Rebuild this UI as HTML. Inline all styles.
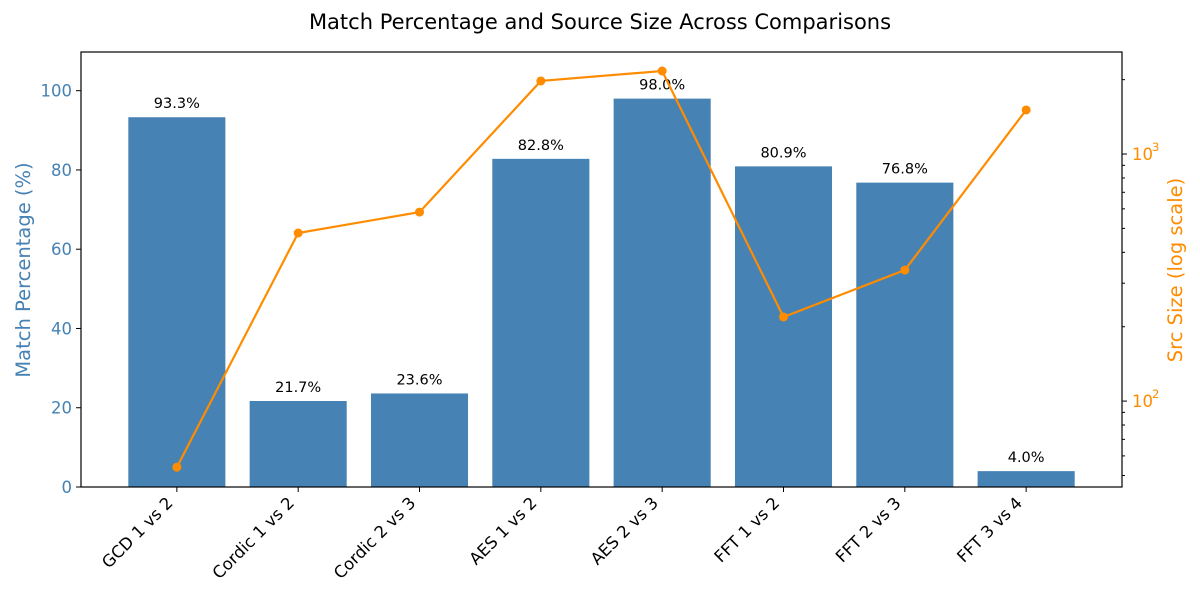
<!DOCTYPE html>
<html><head><meta charset="utf-8"><style>
body{margin:0;background:#fff;font-family:"Liberation Sans","DejaVu Sans",sans-serif}
svg text{font-family:"DejaVu Sans","Liberation Sans",sans-serif}
</style></head><body>
<svg id="chart" width="1200" height="600" xmlns="http://www.w3.org/2000/svg"></svg>
<script>
const categories=["GCD 1 vs 2","Cordic 1 vs 2","Cordic 2 vs 3","AES 1 vs 2","AES 2 vs 3","FFT 1 vs 2","FFT 2 vs 3","FFT 3 vs 4"];
const matchPct=[93.3,21.7,23.6,82.8,98.0,80.9,76.8,4.0];
const srcSize=[54,479,582,1976,2168,219,339,1508];
const leftTicks=[0,20,40,60,80,100];

const svg=document.getElementById('chart');
const NS="http://www.w3.org/2000/svg";
const L=81,R=1122,T=52,B=487;
const yMax=Math.max(...matchPct)*1.12;
const xMin=-0.79,xMax=categories.length-1+0.79;
const xS=i=>L+(i-xMin)/(xMax-xMin)*(R-L);
const yL=v=>B-v/yMax*(B-T);
const lgMin=Math.log10(44.9),lgMax=Math.log10(2588);
const yR=v=>B-(Math.log10(v)-lgMin)/(lgMax-lgMin)*(B-T);
function el(tag,attrs,text){const e=document.createElementNS(NS,tag);for(const k in attrs)e.setAttribute(k,attrs[k]);if(text!==undefined)e.textContent=text;svg.appendChild(e);return e;}

let t=el('text',{x:600,y:29,'text-anchor':'middle','font-size':21,fill:'#000'},'Match Percentage and Source Size Across Comparisons');



const bw=(R-L)/(xMax-xMin)*0.8;
matchPct.forEach((v,i)=>{
  const r=el('rect',{x:xS(i)-bw/2,y:yL(v),width:bw,height:B-yL(v),fill:'#4682b4'});
  
  
  const lb=el('text',{x:xS(i),y:yL(v)-9,'text-anchor':'middle','font-size':14.5,fill:'#000'},v.toFixed(1)+'%');
  
  
});

const pts=srcSize.map((v,i)=>xS(i)+','+yR(v)).join(' ');
const pl=el('polyline',{points:pts,fill:'none',stroke:'#ff8c00','stroke-width':2.2});


srcSize.forEach((v,i)=>{
  const c=el('circle',{cx:xS(i),cy:yR(v),r:4.5,fill:'#ff8c00'});
  
  
});

const fr=el('rect',{x:L,y:T,width:R-L,height:B-T,fill:'none',stroke:'#000','stroke-width':1.2});



leftTicks.forEach(v=>{
  el('line',{x1:L-5,x2:L,y1:yL(v),y2:yL(v),stroke:'#000'});
  const tl=el('text',{x:L-9,y:yL(v)+6,'text-anchor':'end','font-size':16.5,fill:'#4682b4'},v);
  
  
});
categories.forEach((c,i)=>{
  el('line',{x1:xS(i),x2:xS(i),y1:B,y2:B+5,stroke:'#000'});
  const ax=xS(i)-3, ay=B+17;
  const tx=el('text',{x:ax,y:ay,'text-anchor':'end','font-size':16.5,fill:'#000',transform:`rotate(-45 ${ax} ${ay})`},c);
  
  
});
for(let d=1;d<=3;d++)for(let m=1;m<=9;m++){
  const v=m*Math.pow(10,d);
  if(v<44.9||v>2588)continue;
  const major=m===1;
  el('line',{x1:R,x2:R+(major?5:3),y1:yR(v),y2:yR(v),stroke:'#000'});
  if(major){
    const g=el('text',{x:R+10,y:yR(v)+6,'font-size':16.5,fill:'#ff8c00'},'10');
    
    
    el('text',{x:R+30,y:yR(v)-3,'font-size':11.5,fill:'#ff8c00'},d);
  }
}
const yl=el('text',{x:30,y:270,'text-anchor':'middle','font-size':19.5,fill:'#4682b4',transform:'rotate(-90 30 270)'},'Match Percentage (%)');


const yr=el('text',{x:1182,y:270,'text-anchor':'middle','font-size':19.5,fill:'#ff8c00',transform:'rotate(-90 1182 270)'},'Src Size (log scale)');


</script>
</body></html>
